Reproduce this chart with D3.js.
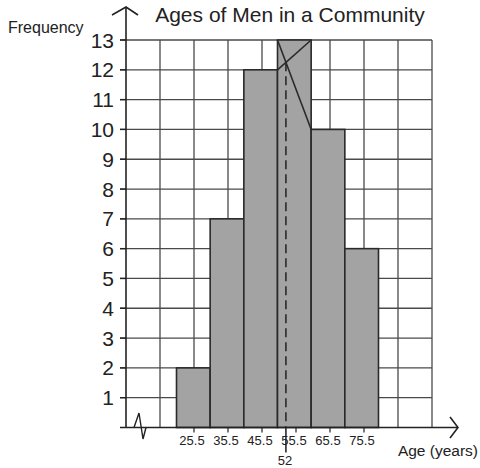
<!DOCTYPE html>
<html>
<head>
<meta charset="utf-8">
<script src="https://cdn.jsdelivr.net/npm/d3@7"></script>
<style>
  html, body { margin: 0; padding: 0; background: #fff; }
  svg { display: block; }
  text { font-family: "Liberation Sans", Arial, Helvetica, sans-serif; fill: #222; }
</style>
</head>
<body>
<svg id="chart" width="480" height="468"></svg>
<script>
// ---- data ----
const title = "Ages of Men in a Community";
const yLabel = "Frequency";
const xLabel = "Age (years)";
const midpoints = [25.5, 35.5, 45.5, 55.5, 65.5, 75.5];
const lowerBounds = [20.5, 30.5, 40.5, 50.5, 60.5, 70.5];
const upperBounds = [30.5, 40.5, 50.5, 60.5, 70.5, 80.5];
const frequencies = [2, 7, 12, 13, 10, 6];
const xTickLabels = ["25.5", "35.5", "45.5", "55.5", "65.5", "75.5"];
const yTicks = [1, 2, 3, 4, 5, 6, 7, 8, 9, 10, 11, 12, 13];
const gridAges = [15.5, 25.5, 35.5, 45.5, 55.5, 65.5, 75.5, 85.5, 95.5];
const modeLabel = "52";
const modalIndex = 3;

// ---- scales ----
const svg = d3.select("#chart");
const x = d3.scaleLinear().domain([5.5, 95.5]).range([126, 432]);
const xb = d3.scaleLinear().domain([20.5, 80.5]).range([176.5, 378.5]); // bar positions
const y = d3.scaleLinear().domain([0, 13]).range([427.5, 40]);
const y0 = y(0);

// ---- grid ----
const grid = svg.append("g").attr("stroke", "#4a4a4a").attr("stroke-width", 1.3);
grid.selectAll("line.h").data(yTicks).join("line")
  .attr("x1", 120).attr("x2", x(95.5))
  .attr("y1", d => y(d)).attr("y2", d => y(d));
grid.selectAll("line.v").data(gridAges).join("line")
  .attr("x1", d => x(d)).attr("x2", d => x(d))
  .attr("y1", y(13)).attr("y2", y0);

// ---- bars ----
svg.append("g").selectAll("rect").data(frequencies).join("rect")
  .attr("x", (d, i) => xb(lowerBounds[i]))
  .attr("width", (d, i) => xb(upperBounds[i]) - xb(lowerBounds[i]))
  .attr("y", d => y(d))
  .attr("height", d => y0 - y(d))
  .attr("fill", "#a3a3a3")
  .attr("stroke", "#2a2a2a")
  .attr("stroke-width", 1.6);

// ---- mode construction ----
const m = modalIndex;
const L = lowerBounds[m], U = upperBounds[m];
const p1 = [xb(L), y(frequencies[m - 1])], p2 = [xb(U), y(frequencies[m])];
const p3 = [xb(L), y(frequencies[m])], p4 = [xb(U), y(frequencies[m + 1])];
const con = svg.append("g").attr("stroke", "#2a2a2a").attr("stroke-width", 1.6);
con.append("line").attr("x1", p1[0]).attr("y1", p1[1]).attr("x2", p2[0]).attr("y2", p2[1]);
con.append("line").attr("x1", p3[0]).attr("y1", p3[1]).attr("x2", p4[0]).attr("y2", p4[1]);
// intersection
const s1 = (p2[1] - p1[1]) / (p2[0] - p1[0]);
const s2 = (p4[1] - p3[1]) / (p4[0] - p3[0]);
const ix = (p3[1] - p1[1] + s1 * p1[0] - s2 * p3[0]) / (s1 - s2);
const iy = p1[1] + s1 * (ix - p1[0]);
con.append("line").attr("x1", ix).attr("x2", ix).attr("y1", iy).attr("y2", y0)
  .attr("stroke-dasharray", "9,5");
con.append("line").attr("x1", ix).attr("x2", ix).attr("y1", y0).attr("y2", y0 + 25);
svg.append("text").attr("x", ix - 1).attr("y", 465).attr("text-anchor", "middle")
  .attr("font-size", 13).text(modeLabel);

// ---- axes ----
const ax = svg.append("g").attr("stroke", "#222").attr("stroke-width", 1.6).attr("fill", "none");
ax.append("line").attr("x1", x(5.5)).attr("x2", x(5.5)).attr("y1", 7).attr("y2", y0);
ax.append("polyline").attr("points", `${x(5.5) - 14},15 ${x(5.5)},7 ${x(5.5) + 12},15`);
ax.append("line").attr("x1", 120).attr("x2", 458).attr("y1", y0).attr("y2", y0);
ax.append("polyline").attr("points", `450,417 458,${y0} 450,438`);
// axis break zigzag
ax.append("polyline").attr("points", `134,${y0} 139,413 143,439 146,${y0}`).attr("stroke-width", 1.4);

// y ticks
svg.append("g").attr("stroke", "#222").attr("stroke-width", 1.4)
  .selectAll("line").data(yTicks).join("line")
  .attr("x1", 120).attr("x2", x(5.5)).attr("y1", d => y(d)).attr("y2", d => y(d));
svg.append("g").selectAll("text").data(yTicks).join("text")
  .attr("x", 114).attr("y", d => y(d) + 7.5)
  .attr("text-anchor", "end").attr("font-size", 21).text(d => d);

// x ticks
svg.append("g").attr("stroke", "#222").attr("stroke-width", 1.2)
  .selectAll("line").data(midpoints).join("line")
  .attr("x1", d => x(d)).attr("x2", d => x(d)).attr("y1", y0).attr("y2", y0 + 5);
svg.append("g").selectAll("text").data(midpoints).join("text")
  .attr("x", d => x(d) - 2).attr("y", 445)
  .attr("text-anchor", "middle").attr("font-size", 13)
  .text((d, i) => xTickLabels[i]);

// ---- labels ----
svg.append("text").attr("x", 290).attr("y", 22).attr("text-anchor", "middle")
  .attr("font-size", 21).text(title);
svg.append("text").attr("x", 8).attr("y", 33).attr("font-size", 16).text(yLabel);
svg.append("text").attr("x", 478).attr("y", 456).attr("text-anchor", "end")
  .attr("font-size", 15.5).text(xLabel);
</script>
</body>
</html>
